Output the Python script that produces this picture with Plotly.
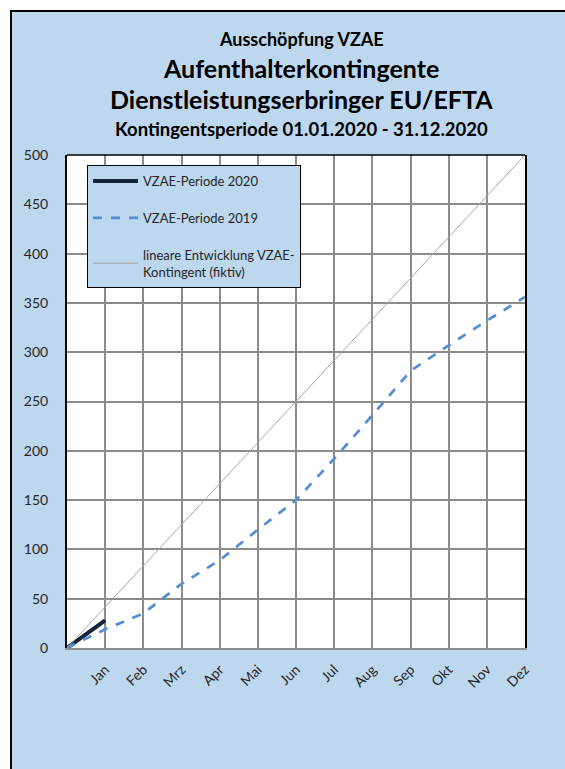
import plotly.graph_objects as go

# ---- data ----
months = ["Jan", "Feb", "Mrz", "Apr", "Mai", "Jun", "Jul", "Aug", "Sep", "Okt", "Nov", "Dez"]
x_pos = list(range(0, 13))            # 0 = start of period, 1..12 = months
vzae_2020 = [0, 28]
vzae_2019 = [0, 19, 35, 65, 89, 120, 150, 192, 236, 281, 307, 332, 356]
linear_x = [0, 12]
linear_y = [0, 500]
y_ticks = [0, 50, 100, 150, 200, 250, 300, 350, 400, 450, 500]

W, H = 565, 769
L, R, T, B = 67, 525, 155, 648
FONT = "Lato, 'Open Sans', sans-serif"
BLUE_BG = "#BDD7EE"

def px(xp):
    return (xp - L) / (R - L)

def py(yp):
    return (B - yp) / (B - T)

fig = go.Figure()
fig.add_trace(go.Scatter(
    x=x_pos[:len(vzae_2020)], y=vzae_2020, mode="lines", name="VZAE-Periode 2020",
    line=dict(color="#14243D", width=4), legendgroup="a"))
fig.add_trace(go.Scatter(
    x=x_pos[:len(vzae_2019)], y=vzae_2019, mode="lines", name="VZAE-Periode 2019",
    line=dict(color="#558ED5", width=2.75, dash="dash"), legendgroup="b"))
fig.add_trace(go.Scatter(
    x=linear_x, y=linear_y, mode="lines",
    name="lineare Entwicklung VZAE-<br>Kontingent (fiktiv)",
    line=dict(color="#A6A6A6", width=1), legendgroup="c"))

shapes = [
    # outer frame
    dict(type="rect", xref="paper", yref="paper", x0=px(11), x1=px(580), y0=py(785), y1=py(11),
         fillcolor=BLUE_BG, line=dict(color="black", width=2), layer="below"),
    # plot area
    dict(type="rect", xref="paper", yref="paper", x0=0, x1=1, y0=0, y1=1,
         fillcolor="white", line=dict(width=0), layer="below"),
    # top border of plot area
    dict(type="line", xref="paper", yref="paper", x0=0, x1=1, y0=1, y1=1,
         line=dict(color="black", width=1.5), layer="above"),
]

titles = [
    ("Ausschöpfung VZAE", 39, 18),
    ("Aufenthalterkontingente", 68, 25),
    ("Dienstleistungserbringer EU/EFTA", 99, 25),
    ("Kontingentsperiode 01.01.2020 - 31.12.2020", 129, 18.5),
]
annotations = [
    dict(text=f"<b>{t}</b>", xref="paper", yref="paper", x=px(301), y=py(yy),
         xanchor="center", yanchor="middle", showarrow=False,
         font=dict(family=FONT, size=s, color="black"))
    for t, yy, s in titles
]

fig.update_layout(
    width=W, height=H,
    margin=dict(l=L, r=W - R, t=T, b=H - B, pad=0),
    paper_bgcolor="white",
    plot_bgcolor="rgba(0,0,0,0)",
    shapes=shapes,
    annotations=annotations,
    showlegend=True,
    legend=dict(
        x=px(87), y=py(165), xanchor="left", yanchor="top",
        bgcolor=BLUE_BG, bordercolor="black", borderwidth=1,
        font=dict(family=FONT, size=13, color="#262626"),
        itemwidth=45, tracegroupgap=17,
    ),
    xaxis=dict(
        range=[0, 12], tickvals=x_pos[1:], ticktext=months, tickangle=-45,
        showgrid=True, gridcolor="#8C8C8C", gridwidth=2,
        showline=True, linecolor="#8C8C8C", linewidth=2, mirror=False,
        zeroline=False, ticks="", ticklabelstandoff=6,
        tickfont=dict(family=FONT, size=14, color="#262626"),
        fixedrange=True,
    ),
    yaxis=dict(
        range=[0, 500], tickvals=y_ticks,
        showgrid=True, gridcolor="#8C8C8C", gridwidth=2,
        showline=True, linecolor="black", linewidth=2, mirror=True,
        zeroline=False, ticks="", ticklabelstandoff=14,
        tickfont=dict(family=FONT, size=14, color="#262626"),
        fixedrange=True,
    ),
)

fig.write_html(
    "out.html",
    config={"displayModeBar": False},
    post_script="document.body.style.margin='0';document.body.style.overflow='hidden';",
)
